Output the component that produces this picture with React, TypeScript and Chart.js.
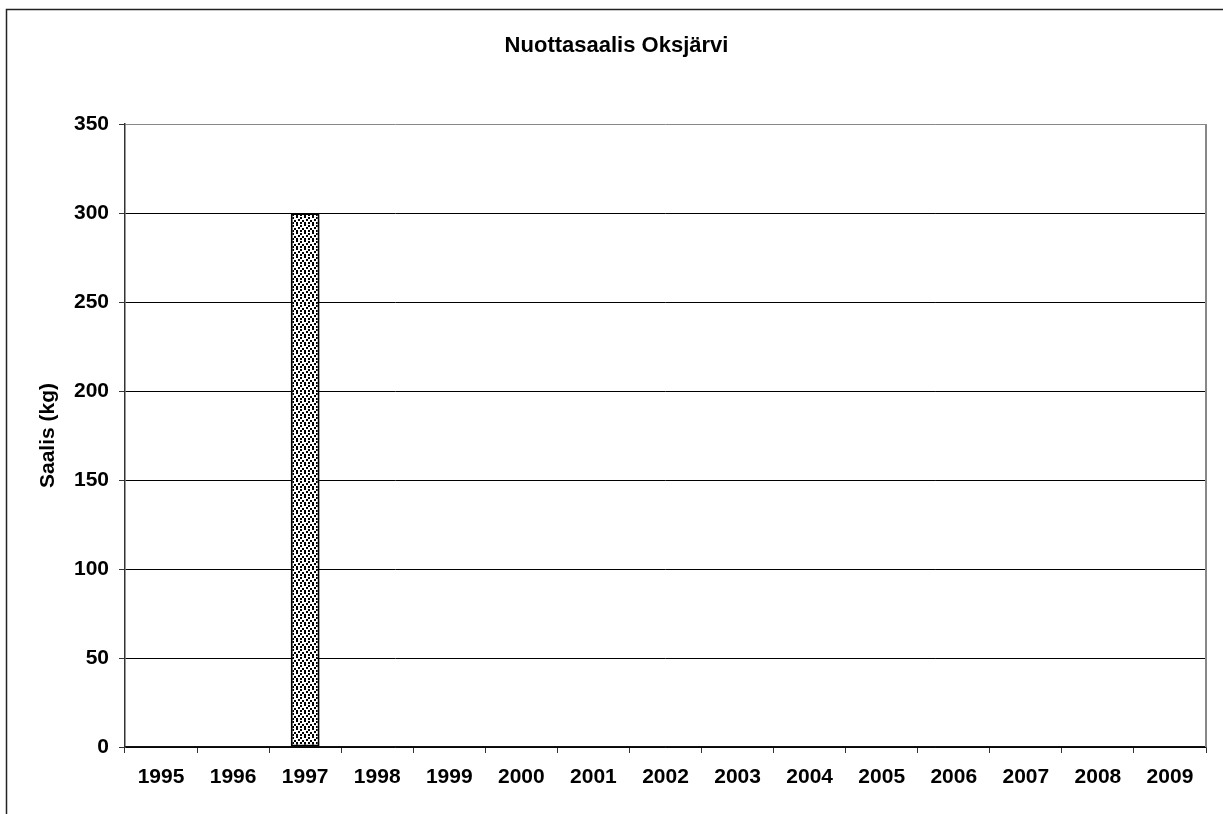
import React, { useEffect, useRef } from "react";
import { Chart, registerables } from "chart.js";

Chart.register(...registerables);

const years = ["1995","1996","1997","1998","1999","2000","2001","2002","2003","2004","2005","2006","2007","2008","2009"];
const catch_kg: (number | null)[] = [null, null, 300, null, null, null, null, null, null, null, null, null, null, null, null];
const chartTitle = "Nuottasaalis Oksjärvi";
const yTitle = "Saalis (kg)";

const FONT = '"Liberation Sans", Arial, sans-serif';

function makePattern(): CanvasPattern | string {
  const c = document.createElement("canvas");
  c.width = 8;
  c.height = 8;
  const g = c.getContext("2d");
  if (!g) return "#999";
  g.fillStyle = "#fff";
  g.fillRect(0, 0, 8, 8);
  g.fillStyle = "#000";
  const dots = [
    [0, 0], [4, 1],
    [2, 3], [6, 4],
    [0, 6], [4, 6],
  ];
  for (const [x, y] of dots) {
    g.fillRect(x, y, 2, 2);
  }
  const p = g.createPattern(c, "repeat");
  return p || "#999";
}

const framePlugin = {
  id: "frame",
  afterDraw(chart: any) {
    const { ctx, chartArea } = chart;
    ctx.save();
    ctx.strokeStyle = "#222";
    ctx.lineWidth = 1.5;
    ctx.beginPath();
    ctx.moveTo(6.5, 814);
    ctx.lineTo(6.5, 9.5);
    ctx.lineTo(1223, 9.5);
    ctx.stroke();
    ctx.strokeStyle = "#888";
    ctx.lineWidth = 2;
    ctx.beginPath();
    ctx.moveTo(chartArea.right, chartArea.top);
    ctx.lineTo(chartArea.right, chartArea.bottom);
    ctx.stroke();
    ctx.restore();
  },
};

export default function App() {
  const ref = useRef<HTMLCanvasElement>(null);
  useEffect(() => {
    if (!ref.current) return;
    const chart = new Chart(ref.current, {
      type: "bar",
      data: {
        labels: years,
        datasets: [
          {
            data: catch_kg,
            yAxisID: "y",
            backgroundColor: makePattern() as any,
            borderColor: "#000",
            borderWidth: 2,
            borderSkipped: false,
            categoryPercentage: 1,
            barPercentage: 0.4,
          },
        ],
      },
      options: {
        responsive: false,
        animation: false,
        devicePixelRatio: 1,
        layout: { padding: { left: 10, right: 0, top: 0, bottom: 0 } },
        plugins: {
          legend: { display: false },
          tooltip: { enabled: false },
          title: {
            display: true,
            text: chartTitle,
            color: "#000",
            font: { family: FONT, size: 22, weight: "bold" },
            padding: { top: 32.8, bottom: 64.8 },
          },
        },
        scales: {
          x: {
            offset: true,
            grid: {
              offset: true,
              drawOnChartArea: false,
              drawTicks: true,
              tickLength: 6,
              color: "#333",
              tickColor: "#333",
            },
            border: { display: true, color: "#111", width: 1.5 },
            ticks: {
              color: "#000",
              font: { family: FONT, size: 21, weight: "bold" },
              padding: 12,
              maxRotation: 0,
              autoSkip: false,
            },
            afterFit(scale: any) {
              scale.height = 67;
            },
          },
          y: {
            position: "left",
            min: 0,
            max: 350,
            ticks: {
              stepSize: 50,
              color: "#000",
              font: { family: FONT, size: 21, weight: "bold" },
              padding: 10,
            },
            grid: {
              color: (c: any) => (c.tick && c.tick.value === 350 ? "#888" : "#000"),
              tickColor: "#333",
              lineWidth: 1,
              tickLength: 6,
            },
            border: { display: true, color: "#333", width: 1.5 },
            title: {
              display: true,
              text: yTitle,
              color: "#000",
              font: { family: FONT, size: 21, weight: "bold" },
              padding: { top: 25.4, bottom: 0 },
            },
            afterFit(scale: any) {
              scale.width = 115;
            },
          },
          y2: {
            position: "right",
            display: true,
            ticks: { display: false },
            grid: { display: false },
            border: { display: false },
            afterFit(scale: any) {
              scale.width = 17;
            },
          },
        },
      },
      plugins: [framePlugin],
    } as any);
    return () => chart.destroy();
  }, []);
  return (
    <div style={{ position: "fixed", left: 0, top: 0, width: 1223, height: 814, background: "#fff" }}>
      <canvas ref={ref} width={1223} height={814} style={{ display: "block" }} />
    </div>
  );
}
